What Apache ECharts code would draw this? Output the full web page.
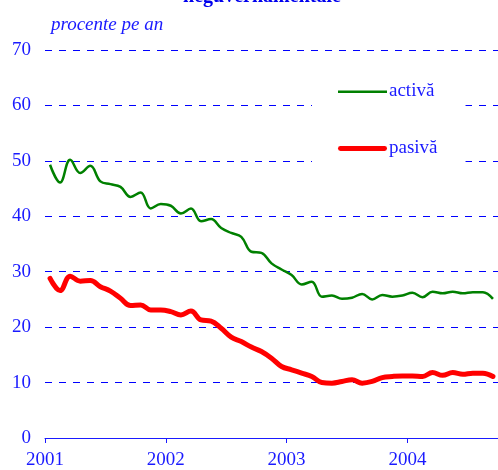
<!DOCTYPE html>
<html>
<head>
<meta charset="utf-8">
<script src="https://cdn.jsdelivr.net/npm/echarts@6/dist/echarts.min.js"></script>
<style>html,body{margin:0;padding:0;background:#fff}</style>
</head>
<body>
<div id="chart" style="width:498px;height:470px"></div>
<script>
// monthly, ian 2001 - sep 2004
var months = [];
for (var y = 2001; y <= 2004; y++) {
    for (var m = 1; m <= 12; m++) {
        if (y === 2004 && m > 9) break;
        months.push(y + '-' + (m < 10 ? '0' + m : m));
    }
}
var activa = [49.3, 46.1, 50.2, 47.8, 49.1, 46.3, 45.8, 45.3, 43.5, 44.3, 41.4, 42.2,
    41.9, 40.5, 41.4, 39.1, 39.5, 37.9, 37.0, 36.3, 33.6, 33.4, 31.5, 30.4,
    29.4, 27.7, 28.2, 25.5, 25.7, 25.1, 25.3, 26.0, 25.0, 25.8, 25.5, 25.7,
    26.2, 25.4, 26.4, 26.1, 26.4, 26.1, 26.3, 26.3, 25.1];
var pasiva = [28.8, 26.6, 29.2, 28.3, 28.4, 27.3, 26.5, 25.2, 23.9, 24.0, 23.1, 23.1,
    22.8, 22.2, 22.9, 21.3, 21.1, 19.8, 18.2, 17.4, 16.4, 15.6, 14.4, 12.9,
    12.3, 11.7, 11.1, 10.0, 9.9, 10.2, 10.5, 9.9, 10.2, 10.9, 11.1, 11.2,
    11.2, 11.1, 11.8, 11.3, 11.8, 11.5, 11.7, 11.7, 11.1];
var yearTicks = ['2001', '2002', '2003', '2004'];

function toX(s) {
    var p = s.split('-');
    return +p[0] + (+p[1] - 0.5) / 12;
}
function pairs(vals) {
    return vals.map(function (v, i) { return [toX(months[i]), v]; });
}

var blue = '#1a1aff';
var font = '"Liberation Serif", "DejaVu Serif", serif';
// legend icons: plain strokes, corner points keep the box size
var thinLine = 'path://M0,0L0,0M0,6L49,6L49,8.5L0,8.5ZM49,14L49,14';
var thickLine = 'path://M0,0L0,0M2,4.5L47,4.5A2.5,2.5,0,0,1,47,9.5L2,9.5A2.5,2.5,0,0,1,2,4.5ZM49,14L49,14';

var chart = echarts.init(document.getElementById('chart'));
var option = {
    animation: false,
    title: [
        {
            text: 'neguvernamentale',
            left: 257, top: -18, textAlign: 'center',
            textStyle: { color: '#0000ee', fontFamily: font, fontSize: 20, fontWeight: 'bold' }
        },
        {
            text: 'procente pe an',
            left: 46, top: 10,
            textStyle: { color: blue, fontFamily: font, fontSize: 19, fontStyle: 'italic', fontWeight: 'normal' }
        }
    ],
    legend: {
        orient: 'vertical',
        left: 312, top: 62,
        padding: [20, 28, 30, 26],
        backgroundColor: '#fff',
        itemWidth: 49, itemHeight: 14, itemGap: 38,
        textStyle: { color: blue, fontFamily: font, fontSize: 19, padding: [0, 0, 0, -3] },
        data: [
            { name: 'activă', icon: thinLine },
            { name: 'pasivă', icon: thickLine }
        ]
    },
    grid: { left: 45, right: 0, top: 50, bottom: 32 },
    xAxis: {
        type: 'value',
        min: 2001, max: 2004.75, interval: 1,
        axisLine: { lineStyle: { color: blue, width: 1 } },
        axisTick: { length: 5, lineStyle: { color: blue } },
        axisLabel: {
            color: blue, fontFamily: font, fontSize: 19, margin: 13,
            showMaxLabel: false,
            formatter: function (v) {
                var s = String(Math.round(v));
                return yearTicks.indexOf(s) >= 0 && Math.abs(v - Math.round(v)) < 1e-6 ? s : '';
            }
        },
        splitLine: { show: false }
    },
    yAxis: {
        type: 'value',
        min: 0, max: 70, interval: 10,
        axisLine: { show: false },
        axisTick: { show: false },
        axisLabel: { color: blue, fontFamily: font, fontSize: 19, margin: 14 },
        splitLine: { lineStyle: { color: '#0000ff', type: [7, 7], width: 1 } }
    },
    series: [
        {
            name: 'activă', type: 'line', smooth: 0.4, symbol: 'none',
            data: pairs(activa),
            lineStyle: { color: '#008000', width: 2.5 },
            itemStyle: { color: '#008000' }
        },
        {
            name: 'pasivă', type: 'line', smooth: 0.4, symbol: 'none',
            data: pairs(pasiva),
            lineStyle: { color: '#ff0000', width: 5, cap: 'round' },
            itemStyle: { color: '#ff0000' }
        }
    ]
};
chart.setOption(option);
</script>
</body>
</html>
